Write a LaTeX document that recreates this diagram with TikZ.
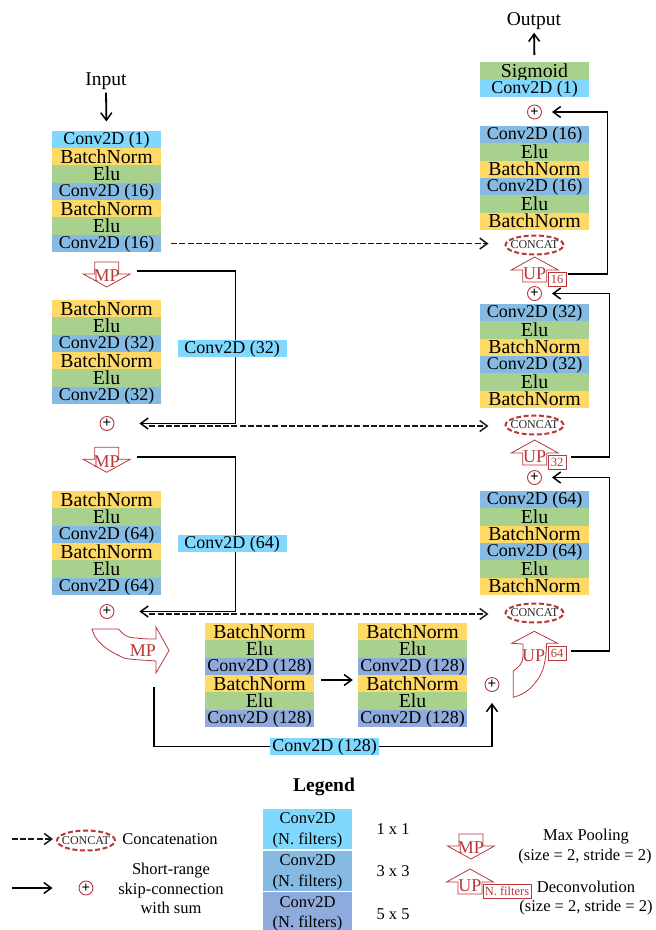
\documentclass[tikz,border=0pt]{standalone}
\usepackage{fontspec}
\setmainfont{Liberation Serif}
\usetikzlibrary{arrows.meta,shapes.geometric}
\definecolor{cla}{HTML}{80D8FF}
\definecolor{clb}{HTML}{85BBE2}
\definecolor{clc}{HTML}{8FAADC}
\definecolor{cbn}{HTML}{FFD966}
\definecolor{cel}{HTML}{A9D18E}
\definecolor{cred}{HTML}{B8373A}
\pgfdeclarelayer{links}
\pgfsetlayers{links,main}
\newcommand{\cct}{\makebox[30pt][c]{CONCAT}}
\tikzset{
  x=1pt,y=-1pt,
  >={Straight Barb[length=7.5pt,width=11pt,line width=1.5pt]},
  blk/.style={rectangle,minimum width=109pt,minimum height=17.6pt,inner sep=0pt,text height=12.5pt,text depth=2pt,font=\fontsize{18}{18}\selectfont},
  conva/.style={fill=cla},convb/.style={fill=clb},convc/.style={fill=clc},
  bnorm/.style={fill=cbn,text height=14pt,text depth=1pt,font=\fontsize{19.8}{19.8}\selectfont},
  elu/.style={fill=cel,text height=14pt,text depth=1pt,font=\fontsize{19.8}{19.8}\selectfont},
  sumnode/.style={circle,draw=cred,line width=.9pt,minimum size=14pt,inner sep=0pt,font=\fontsize{15}{15}\bfseries\selectfont},
  concatnode/.style={ellipse,draw=cred,line width=2pt,dash pattern=on 5pt off 2.6pt,minimum width=58pt,minimum height=19pt,inner sep=0pt,text=black!85,font=\fontsize{12}{12}\selectfont},
  shapeline/.style={draw=cred,line width=.8pt},
  redtext/.style={text=cred,inner sep=0pt,yshift=-1pt,font=\fontsize{18}{18}\selectfont},
  upbox/.style={draw=cred,fill=white,line width=.9pt,minimum width=18pt,minimum height=14pt,inner sep=0pt,text=cred,font=\fontsize{12.5}{12.5}\selectfont},
  lab/.style={inner sep=0pt,yshift=-1.5pt,font=\fontsize{16.5}{16.5}\selectfont},
  io/.style={inner sep=0pt,yshift=-1pt,font=\fontsize{19.5}{19.5}\selectfont},
  solidlink/.style={->,black,line width=1.8pt},
  dashedlink/.style={->,black!90,line width=1.2pt,dash pattern=on 6pt off 2.2pt},
  lgd/.style={rectangle,minimum width=89pt,minimum height=40pt,inner sep=0pt,align=center,font=\fontsize{16.5}{20.5}\selectfont},
}
\newcommand{\stackblocks}[4]{%
  \foreach \sty/\lbl [count=\i] in {#4} {\node[blk,\sty] (#1-\i) at ({#2},{#3+(\i-.5)*17.35}) {\lbl};}}
\newcommand{\mpglyph}[3]{%
  \begin{scope}[shift={(#2,#3)}]
    \draw[shapeline] (-12,-13) -- (12,-13) -- (12,-1) -- (23.5,-1) -- (0,12) -- (-23.5,-1) -- (-12,-1) -- cycle;
    \node[redtext] (#1) at (0,0) {MP};
  \end{scope}}
\newcommand{\upglyph}[3]{%
  \begin{scope}[shift={(#2,#3)}]
    \draw[shapeline] (-12,9) -- (-12,-3) -- (-23.5,-3) -- (0,-16) -- (23.5,-3) -- (12,-3) -- (12,9) -- cycle;
    \node[redtext] (#1) at (0,0) {UP};
  \end{scope}}
\begin{document}
\begin{tikzpicture}
\useasboundingbox (0,0) rectangle (656,930);

% left column
\stackblocks{a}{106.5}{130.8}{conva/Conv2D (1),bnorm/BatchNorm,elu/Elu,convb/Conv2D (16),bnorm/BatchNorm,elu/Elu,convb/Conv2D (16)}
\stackblocks{b}{106.5}{300.2}{bnorm/BatchNorm,elu/Elu,convb/Conv2D (32),bnorm/BatchNorm,elu/Elu,convb/Conv2D (32)}
\stackblocks{c}{106.5}{491}{bnorm/BatchNorm,elu/Elu,convb/Conv2D (64),bnorm/BatchNorm,elu/Elu,convb/Conv2D (64)}
% bottom centre
\stackblocks{d}{259.5}{623}{bnorm/BatchNorm,elu/Elu,convc/Conv2D (128),bnorm/BatchNorm,elu/Elu,convc/Conv2D (128)}
\stackblocks{e}{412.5}{623}{bnorm/BatchNorm,elu/Elu,convc/Conv2D (128),bnorm/BatchNorm,elu/Elu,convc/Conv2D (128)}
% right column
\stackblocks{f}{534.5}{62.5}{elu/Sigmoid,conva/Conv2D (1)}
\stackblocks{g}{534.5}{126}{convb/Conv2D (16),elu/Elu,bnorm/BatchNorm,convb/Conv2D (16),elu/Elu,bnorm/BatchNorm}
\stackblocks{h}{534.5}{304}{convb/Conv2D (32),elu/Elu,bnorm/BatchNorm,convb/Conv2D (32),elu/Elu,bnorm/BatchNorm}
\stackblocks{k}{534.5}{491}{convb/Conv2D (64),elu/Elu,bnorm/BatchNorm,convb/Conv2D (64),elu/Elu,bnorm/BatchNorm}

% side blocks
\node[blk,conva] (side1) at (232,348.5) {Conv2D (32)};
\node[blk,conva] (side2) at (232,543.5) {Conv2D (64)};
\node[blk,conva] (side3) at (324.5,746.5) {Conv2D (128)};

% labels
\node[io] (input) at (106,80) {Input};
\node[io] (output) at (534,20) {Output};

% sums
\node[sumnode] (s1) at (107,423.5) {+};
\node[sumnode] (s2) at (107,611.5) {+};
\node[sumnode] (s3) at (534.5,112) {+};
\node[sumnode] (s4) at (534.5,293.5) {+};
\node[sumnode] (s5) at (534.5,477.5) {+};
\node[sumnode] (s6) at (492,684.5) {+};

% concat
\node[concatnode] (c1) at (534.5,245) {\cct};
\node[concatnode] (c2) at (534.5,425) {\cct};
\node[concatnode] (c3) at (534.5,613) {\cct};

% max pooling
\mpglyph{mp1}{106.7}{275}
\mpglyph{mp2}{106.7}{460.3}
\draw[shapeline] (92,629) -- (118.5,629) .. controls (123,634) and (126,638) .. (136,638) .. controls (143,639) and (150,639) .. (156,639) -- (156,627) -- (169,650.5) -- (156,673) -- (156,661) .. controls (145,660) and (132,660) .. (124,658) .. controls (108,651) and (95,642) .. (92,629) -- cycle;
\node[redtext] (mp3) at (143,650) {MP};

% up-sampling
\upglyph{up1}{534.7}{273}
\node[upbox] (b1) at (557,279.7) {16};
\upglyph{up2}{534.7}{456}
\node[upbox] (b2) at (557,462) {32};
\draw[shapeline] (523,644) -- (511.7,643.3) -- (534.3,631.3) -- (557.7,643.3) -- (546.7,643.3) .. controls (546,660) and (544,673) .. (535,683) .. controls (530,690) and (522,695) .. (513.3,697.3) -- (513.3,671) .. controls (518,667) and (523,665) .. (523,655) -- cycle;
\node[redtext] (up3) at (533.7,655) {UP};
\node[upbox] (b3) at (557,653.7) {64};

\coordinate (w1) at (607.5,200);
\coordinate (w2) at (609.5,380);
\coordinate (w3) at (609.5,560);
\coordinate (w4) at (153.8,687);
\coordinate (w5) at (153.8,720);

\begin{pgfonlayer}{links}
\draw[solidlink,shorten <=3pt,shorten >=9pt] (input.south) -- (a-1.north);
\draw[solidlink,shorten <=7pt,shorten >=3pt] (f-1.north) -- (output.south);
% long skips
\draw[dashedlink,shorten <=10pt,shorten >=16pt] (a-7.east) -- (a-7.east -| c1.west);
\draw[dashedlink,shorten <=35pt,shorten >=16pt] ([yshift=-2.5pt]s1.east) -- ([yshift=-2.5pt]s1.east -| c2.west);
\draw[dashedlink,shorten <=35pt,shorten >=16pt] ([yshift=-2.5pt]s2.east) -- ([yshift=-2.5pt]s2.east -| c3.west);
% short skips
\draw[solidlink,shorten <=17pt,shorten >=25pt] ([yshift=5pt]mp1.east) -| ([xshift=3.5pt]side1.center) |- (s1);
\draw[solidlink,shorten <=17pt,shorten >=25pt] ([yshift=4.5pt]mp2.east) -| ([xshift=3.5pt]side2.center) |- (s2);
\draw[solidlink,shorten <=2pt,shorten >=10pt] ([yshift=5.5pt]b1.east) -| (w1) |- (s3);
\draw[solidlink,shorten <=5pt,shorten >=10pt] ([yshift=5pt]b2.east) -| (w2) |- (s4);
\draw[solidlink,shorten <=5pt,shorten >=10pt] ([yshift=3pt]b3.east) -| (w3) |- (s5);
\draw[solidlink,shorten >=11pt] (w4) -- (w5) |- (side3) -| (s6.south);
\draw[solidlink,shorten <=7pt,shorten >=5pt] (d-4.east |- 0,680) -- (e-4.west |- 0,680);
\end{pgfonlayer}

% legend
\node[font=\fontsize{19.5}{19.5}\bfseries\selectfont,inner sep=0pt] (ltitle) at (324,786.5) {Legend};
\coordinate (l1) at (12,839);
\node[concatnode,minimum width=58pt,minimum height=20pt] (lc) at (86,840.5) {\cct};
\draw[dashedlink,shorten >=3pt] (l1) -- (l1 -| lc.west);
\node[lab] (ltc) at (170,838) {Concatenation};
\coordinate (l2) at (12,888);
\node[sumnode] (ls) at (86,888) {+};
\draw[solidlink,shorten >=26pt] (l2) -- (ls);
\node[lab,align=center,font=\fontsize{16.5}{19.7}\selectfont] (lts) at (171,887) {Short-range\\skip-connection\\with sum};
\node[lgd,conva] (lb1) at (307.5,829) {\rule{0pt}{13pt}Conv2D\\(N. filters)};
\node[lgd,convb] (lb2) at (307.5,871) {\rule{0pt}{13pt}Conv2D\\(N. filters)};
\node[lgd,convc] (lb3) at (307.5,912) {\rule{0pt}{14pt}Conv2D\\(N. filters)};
\node[lab] (l11) at (393,828) {1 x 1};
\node[lab] (l33) at (393,870) {3 x 3};
\node[lab] (l55) at (393,913) {5 x 5};
\mpglyph{lmp}{471}{847}
\node[lab] (lmt) at (586,835) {Max Pooling};
\node[lab] (lmt2) at (585,855) {(size = 2, stride = 2)};
\upglyph{lup}{470}{885}
\node[upbox,minimum width=48pt] (lub) at (507,891) {N. filters};
\node[lab] (lut) at (586,885.5) {Deconvolution};
\node[lab] (lut2) at (586,906) {(size = 2, stride = 2)};
\end{tikzpicture}
\end{document}
